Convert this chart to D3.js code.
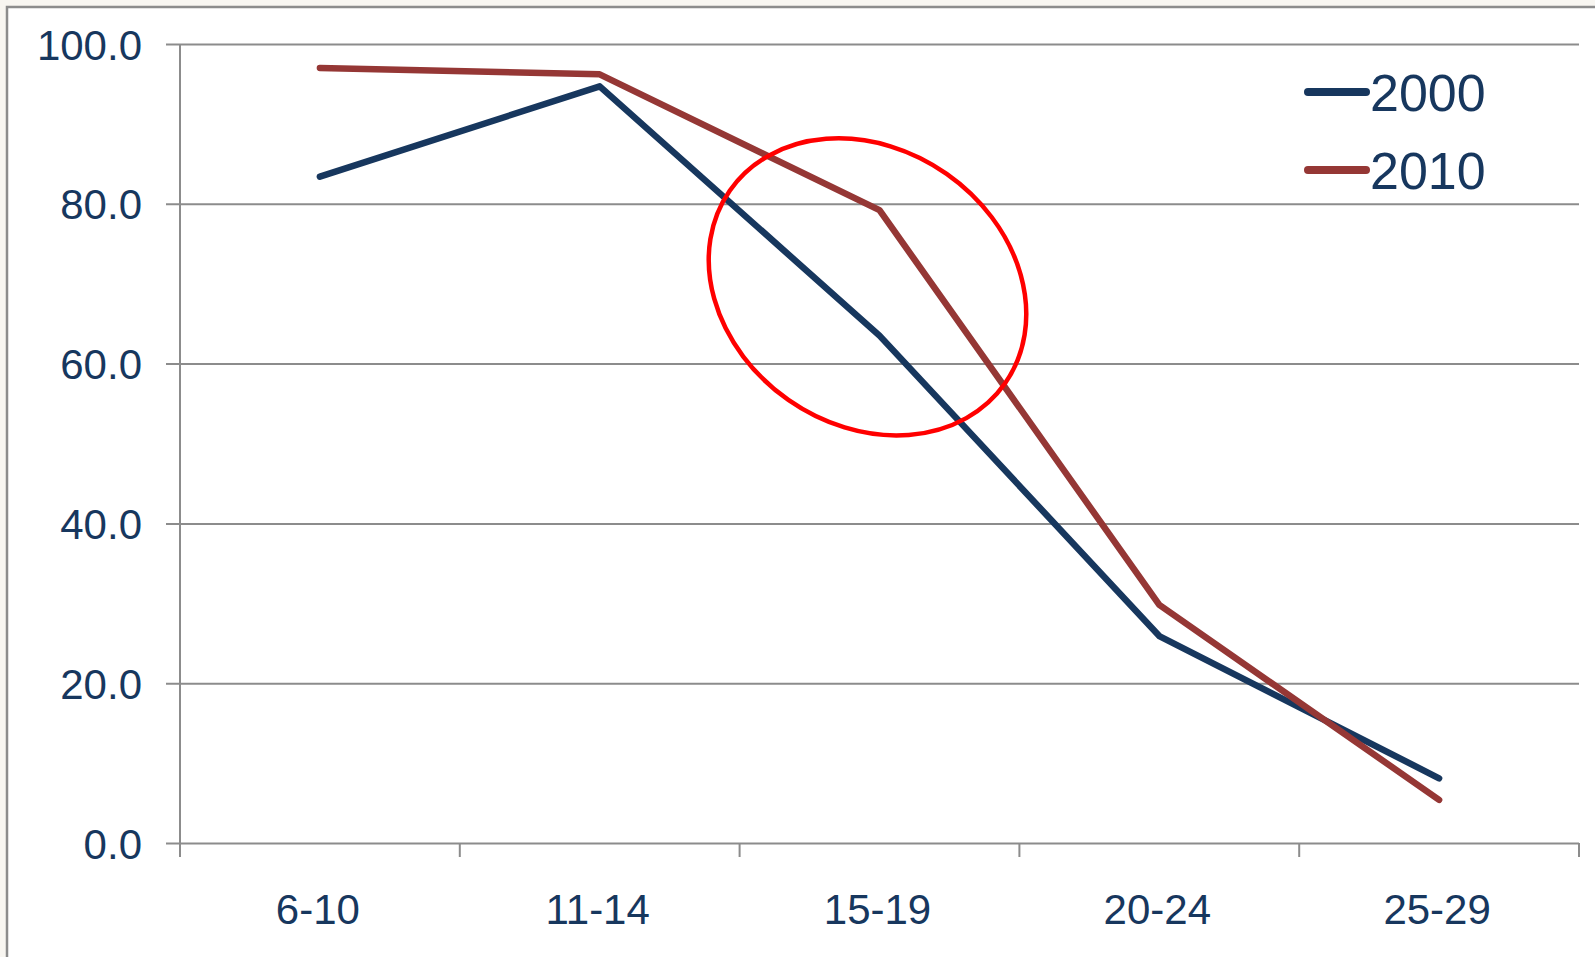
<!DOCTYPE html>
<html>
<head>
<meta charset="utf-8">
<script src="https://cdn.jsdelivr.net/npm/d3@7"></script>
<style>
  html, body { margin: 0; padding: 0; background: #f8f6f1; overflow: hidden; }
  svg { display: block; font-family: "Liberation Sans", Arial, sans-serif; }
</style>
</head>
<body>
<div id="root"></div>
<script>
// Data
const ageGroups = ['6-10', '11-14', '15-19', '20-24', '25-29'];
const values2000 = [83.4, 94.7, 63.5, 25.9, 8.1];
const values2010 = [97.0, 96.2, 79.2, 29.8, 5.4];
const seriesNames = ['2000', '2010'];
const yTicks = [0, 20, 40, 60, 80, 100];

// Variables
const width = 1595;
const height = 957;
const margin = { top: 44, right: 16, bottom: 114, left: 180 };
const textColor = '#17375e';
const gridColor = '#8c8c8c';
const colors = { '2000': '#17375e', '2010': '#953735' };

const chart = d3.select('#root')
  .append('svg:svg')
  .attr('width', width)
  .attr('height', height);

// White chart area with the grey frame
chart.append('svg:rect')
  .attr('x', 7)
  .attr('y', 7)
  .attr('width', width)
  .attr('height', height)
  .attr('fill', '#ffffff')
  .attr('stroke', gridColor)
  .attr('stroke-width', 2.5);

const x = d3.scaleBand()
  .domain(ageGroups)
  .range([margin.left, width - margin.right]);

const y = d3.scaleLinear()
  .domain([0, 100])
  .range([height - margin.bottom, margin.top]);

// Gridlines + y axis
const yAxis = chart.append('g')
  .attr('transform', `translate(${margin.left},0)`)
  .call(d3.axisLeft(y)
    .tickValues(yTicks)
    .tickSize(-(width - margin.left - margin.right))
    .tickPadding(38)
    .tickFormat(d3.format('.1f')));

yAxis.select('.domain').remove();
yAxis.selectAll('.tick line')
  .attr('stroke', gridColor)
  .attr('stroke-width', 2)
  .attr('x1', -14);
yAxis.selectAll('.tick text')
  .attr('fill', textColor)
  .style('font-size', '42px')
  .attr('dy', '0.36em');

// Vertical axis line
chart.append('svg:line')
  .attr('x1', margin.left)
  .attr('x2', margin.left)
  .attr('y1', y(100))
  .attr('y2', y(0) + 14)
  .attr('stroke', gridColor)
  .attr('stroke-width', 2);

// x axis with ticks between categories
const xAxis = chart.append('g')
  .attr('transform', `translate(0,${y(0)})`);

xAxis.selectAll('line.sep')
  .data(ageGroups)
  .enter()
    .append('svg:line')
    .attr('x1', d => x(d) + x.bandwidth())
    .attr('x2', d => x(d) + x.bandwidth())
    .attr('y1', 0)
    .attr('y2', 14)
    .attr('stroke', gridColor)
    .attr('stroke-width', 2);

xAxis.selectAll('text')
  .data(ageGroups)
  .enter()
    .append('svg:text')
    .attr('x', d => x(d) + x.bandwidth() / 2 - 2)
    .attr('y', 81)
    .attr('text-anchor', 'middle')
    .attr('fill', textColor)
    .style('font-size', '42px')
    .text(d => d);

// Lines
const series = [
  { name: '2000', values: values2000 },
  { name: '2010', values: values2010 }
];

const line = d3.line()
  .x((d, i) => x(ageGroups[i]) + x.bandwidth() / 2)
  .y(d => y(d));

chart.append('g')
  .selectAll('path')
  .data(series)
  .enter()
    .append('svg:path')
    .attr('d', d => line(d.values))
    .attr('fill', 'none')
    .attr('stroke', d => colors[d.name])
    .attr('stroke-width', 6.5)
    .attr('stroke-linecap', 'round')
    .attr('stroke-linejoin', 'round');

// Red ellipse annotation around 15-19
const ellipseX = x('15-19') + x.bandwidth() / 2 - 12;
const ellipseY = y(69.6);
chart.append('svg:ellipse')
  .attr('cx', 0)
  .attr('cy', 0)
  .attr('rx', 168)
  .attr('ry', 138)
  .attr('transform', `translate(${ellipseX},${ellipseY}) rotate(35)`)
  .attr('fill', 'none')
  .attr('stroke', '#ff0000')
  .attr('stroke-width', 4.5);

// Legend
const legend = chart.append('g')
  .selectAll('g')
  .data(seriesNames)
  .enter()
    .append('svg:g')
    .attr('transform', (d, i) => `translate(1308,${92 + i * 78})`);

legend.append('svg:line')
  .attr('x1', 0)
  .attr('x2', 58)
  .attr('stroke', d => colors[d])
  .attr('stroke-width', 8)
  .attr('stroke-linecap', 'round');

legend.append('svg:text')
  .attr('x', 62)
  .attr('y', 19)
  .attr('fill', textColor)
  .style('font-size', '52px')
  .text(d => d);
</script>
</body>
</html>
